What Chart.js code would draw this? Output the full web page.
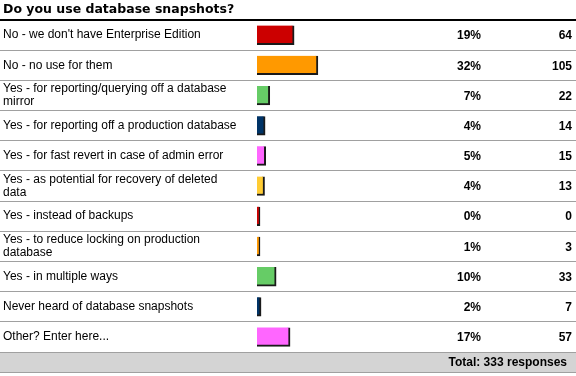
<!DOCTYPE html>
<html>
<head>
<meta charset="utf-8">
<script src="https://cdn.jsdelivr.net/npm/chart.js@4"></script>
<style>
  html, body { margin: 0; padding: 0; background: #fff; }
  #contenedor { width: 576px; height: 376px; }
</style>
</head>
<body>
<div id="contenedor"><canvas id="grafica"></canvas></div>
<script>
const titulo = "Do you use database snapshots?";
const respuestas = [
  "No - we don't have Enterprise Edition",
  "No - no use for them",
  ["Yes - for reporting/querying off a database", "mirror"],
  "Yes - for reporting off a production database",
  "Yes - for fast revert in case of admin error",
  ["Yes - as potential for recovery of deleted", "data"],
  "Yes - instead of backups",
  ["Yes - to reduce locking on production", "database"],
  "Yes - in multiple ways",
  "Never heard of database snapshots",
  "Other? Enter here..."
];
const conteos = [64, 105, 22, 14, 15, 13, 0, 3, 33, 7, 57];
const porcentajes = ["19%", "32%", "7%", "4%", "5%", "4%", "0%", "1%", "10%", "2%", "17%"];
const totalRespuestas = "Total: 333 responses";
const colores = ["#CC0000", "#FF9900", "#66CC66", "#003366", "#FF66FF", "#FFCC33"];

// columnas de porcentaje y cantidad + barra del total
const columnas = {
  id: 'columnas',
  afterDatasetsDraw(chart) {
    const { ctx, chartArea, scales: { y } } = chart;
    ctx.save();
    ctx.fillStyle = '#000';
    ctx.textAlign = 'right';
    ctx.textBaseline = 'middle';
    ctx.font = 'bold 12px "Liberation Sans", Arial, sans-serif';
    conteos.forEach((c, i) => {
      const yy = y.getPixelForValue(i) + 1;
      ctx.fillText(porcentajes[i], 481, yy);
      ctx.fillText(String(c), 572, yy);
    });

    const arriba = chartArea.bottom + 1;
    ctx.fillStyle = '#D4D4D4';
    ctx.fillRect(0, arriba, chart.width, 19);
    ctx.fillStyle = '#A0A0A0';
    ctx.fillRect(0, arriba + 19, chart.width, 1);
    ctx.fillStyle = '#000';
    ctx.fillText(totalRespuestas, 567, arriba + 10);
    ctx.restore();
  }
};

const $grafica = document.querySelector("#grafica");

new Chart($grafica, {
  type: 'bar',
  data: {
    labels: respuestas,
    datasets: [{
      data: conteos,
      backgroundColor: conteos.map((_, i) => colores[i % colores.length]),
      borderColor: '#1a1a1a',
      borderWidth: { top: 0, left: 0, right: 2, bottom: 2 },
      borderSkipped: false,
      barThickness: 19,
      minBarLength: 3
    }]
  },
  options: {
    indexAxis: 'y',
    responsive: true,
    maintainAspectRatio: false,
    animation: false,
    layout: { padding: { left: 3, right: 0, top: 0, bottom: 24 } },
    plugins: {
      legend: { display: false },
      tooltip: { enabled: false },
      title: {
        display: true,
        text: titulo,
        align: 'start',
        color: '#000',
        font: { family: '"DejaVu Sans", Verdana, sans-serif', size: 12.5, weight: 'bold' },
        padding: { top: 2, bottom: 3 }
      }
    },
    scales: {
      x: { display: false, min: 0, max: 550 },
      y: {
        afterFit(scale) { scale.width = 254; },
        border: { display: false },
        grid: {
          offset: true,
          tickLength: 260,
          color: ctx => ctx.index === 0 ? '#000' : '#A0A0A0',
          lineWidth: ctx => ctx.index === 0 ? 2 : 1
        },
        ticks: {
          crossAlign: 'far',
          color: '#000',
          font: { family: '"Liberation Sans", Arial, sans-serif', size: 12, lineHeight: 1.1 }
        }
      }
    }
  },
  plugins: [columnas]
});
</script>
</body>
</html>
